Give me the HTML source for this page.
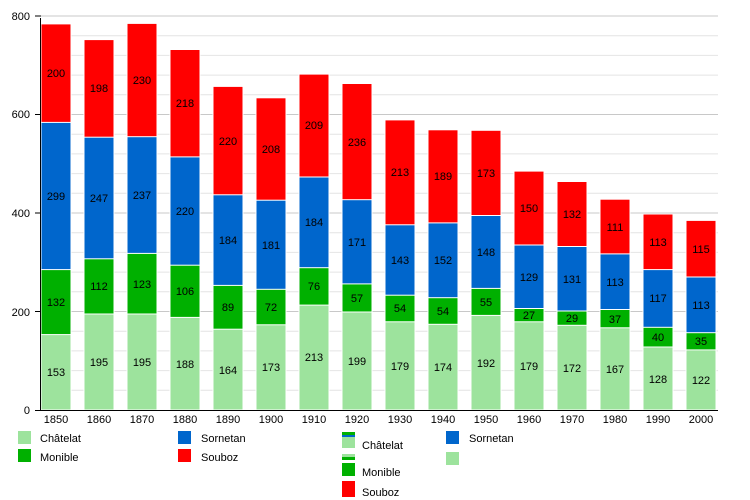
<!DOCTYPE html>
<html><head><meta charset="utf-8"><style>body{margin:0;background:#fff}svg{display:block}text{font-family:"Liberation Sans",sans-serif}</style></head><body>
<svg width="750" height="500" xmlns="http://www.w3.org/2000/svg">
<g stroke="#e4e4e4" stroke-width="1">
<line x1="40" x2="718" y1="390.3" y2="390.3"/><line x1="40" x2="718" y1="370.6" y2="370.6"/><line x1="40" x2="718" y1="350.9" y2="350.9"/><line x1="40" x2="718" y1="331.2" y2="331.2"/>
<line x1="40" x2="718" y1="291.8" y2="291.8"/><line x1="40" x2="718" y1="272.1" y2="272.1"/><line x1="40" x2="718" y1="252.4" y2="252.4"/><line x1="40" x2="718" y1="232.7" y2="232.7"/>
<line x1="40" x2="718" y1="193.3" y2="193.3"/><line x1="40" x2="718" y1="173.6" y2="173.6"/><line x1="40" x2="718" y1="153.9" y2="153.9"/><line x1="40" x2="718" y1="134.2" y2="134.2"/>
<line x1="40" x2="718" y1="94.8" y2="94.8"/><line x1="40" x2="718" y1="75.1" y2="75.1"/><line x1="40" x2="718" y1="55.4" y2="55.4"/><line x1="40" x2="718" y1="35.7" y2="35.7"/>
</g>
<g stroke="#c8c8c8" stroke-width="1">
<line x1="40" x2="718" y1="311.5" y2="311.5"/><line x1="40" x2="718" y1="213" y2="213"/><line x1="40" x2="718" y1="114.5" y2="114.5"/><line x1="40" x2="718" y1="16" y2="16"/>
</g>
<g stroke="#fff" stroke-width="1">
<rect x="41" y="23.9" width="30" height="386.1" fill="#ff0000"/><rect x="41" y="122.4" width="30" height="287.6" fill="#0066cc"/><rect x="41" y="269.6" width="30" height="140.4" fill="#00b000"/><rect x="41" y="334.6" width="30" height="75.4" fill="#9de39d"/>
<rect x="84" y="39.6" width="30" height="370.4" fill="#ff0000"/><rect x="84" y="137.2" width="30" height="272.8" fill="#0066cc"/><rect x="84" y="258.8" width="30" height="151.2" fill="#00b000"/><rect x="84" y="314" width="30" height="96" fill="#9de39d"/>
<rect x="127" y="23.4" width="30" height="386.6" fill="#ff0000"/><rect x="127" y="136.7" width="30" height="273.3" fill="#0066cc"/><rect x="127" y="253.4" width="30" height="156.6" fill="#00b000"/><rect x="127" y="314" width="30" height="96" fill="#9de39d"/>
<rect x="170" y="49.5" width="30" height="360.5" fill="#ff0000"/><rect x="170" y="156.9" width="30" height="253.1" fill="#0066cc"/><rect x="170" y="265.2" width="30" height="144.8" fill="#00b000"/><rect x="170" y="317.4" width="30" height="92.6" fill="#9de39d"/>
<rect x="213" y="86.4" width="30" height="323.6" fill="#ff0000"/><rect x="213" y="194.8" width="30" height="215.2" fill="#0066cc"/><rect x="213" y="285.4" width="30" height="124.6" fill="#00b000"/><rect x="213" y="329.2" width="30" height="80.8" fill="#9de39d"/>
<rect x="256" y="97.8" width="30" height="312.2" fill="#ff0000"/><rect x="256" y="200.2" width="30" height="209.8" fill="#0066cc"/><rect x="256" y="289.3" width="30" height="120.7" fill="#00b000"/><rect x="256" y="324.8" width="30" height="85.2" fill="#9de39d"/>
<rect x="299" y="74.1" width="30" height="335.9" fill="#ff0000"/><rect x="299" y="177" width="30" height="233" fill="#0066cc"/><rect x="299" y="267.7" width="30" height="142.3" fill="#00b000"/><rect x="299" y="305.1" width="30" height="104.9" fill="#9de39d"/>
<rect x="342" y="83.5" width="30" height="326.5" fill="#ff0000"/><rect x="342" y="199.7" width="30" height="210.3" fill="#0066cc"/><rect x="342" y="283.9" width="30" height="126.1" fill="#00b000"/><rect x="342" y="312" width="30" height="98" fill="#9de39d"/>
<rect x="385" y="119.9" width="30" height="290.1" fill="#ff0000"/><rect x="385" y="224.8" width="30" height="185.2" fill="#0066cc"/><rect x="385" y="295.2" width="30" height="114.8" fill="#00b000"/><rect x="385" y="321.8" width="30" height="88.2" fill="#9de39d"/>
<rect x="428" y="129.8" width="30" height="280.2" fill="#ff0000"/><rect x="428" y="222.9" width="30" height="187.1" fill="#0066cc"/><rect x="428" y="297.7" width="30" height="112.3" fill="#00b000"/><rect x="428" y="324.3" width="30" height="85.7" fill="#9de39d"/>
<rect x="471" y="130.3" width="30" height="279.7" fill="#ff0000"/><rect x="471" y="215.5" width="30" height="194.5" fill="#0066cc"/><rect x="471" y="288.4" width="30" height="121.6" fill="#00b000"/><rect x="471" y="315.4" width="30" height="94.6" fill="#9de39d"/>
<rect x="514" y="171.1" width="30" height="238.9" fill="#ff0000"/><rect x="514" y="245" width="30" height="165" fill="#0066cc"/><rect x="514" y="308.5" width="30" height="101.5" fill="#00b000"/><rect x="514" y="321.8" width="30" height="88.2" fill="#9de39d"/>
<rect x="557" y="181.5" width="30" height="228.5" fill="#ff0000"/><rect x="557" y="246.5" width="30" height="163.5" fill="#0066cc"/><rect x="557" y="311" width="30" height="99" fill="#00b000"/><rect x="557" y="325.3" width="30" height="84.7" fill="#9de39d"/>
<rect x="600" y="199.2" width="30" height="210.8" fill="#ff0000"/><rect x="600" y="253.9" width="30" height="156.1" fill="#0066cc"/><rect x="600" y="309.5" width="30" height="100.5" fill="#00b000"/><rect x="600" y="327.8" width="30" height="82.2" fill="#9de39d"/>
<rect x="643" y="214" width="30" height="196" fill="#ff0000"/><rect x="643" y="269.6" width="30" height="140.4" fill="#0066cc"/><rect x="643" y="327.3" width="30" height="82.7" fill="#00b000"/><rect x="643" y="347" width="30" height="63" fill="#9de39d"/>
<rect x="686" y="220.4" width="30" height="189.6" fill="#ff0000"/><rect x="686" y="277" width="30" height="133" fill="#0066cc"/><rect x="686" y="332.7" width="30" height="77.3" fill="#00b000"/><rect x="686" y="349.9" width="30" height="60.1" fill="#9de39d"/>
</g>
<g font-size="11" fill="#000" text-anchor="middle">
<text x="56" y="376">153</text><text x="56" y="306">132</text><text x="56" y="200">299</text><text x="56" y="77">200</text>
<text x="99" y="366">195</text><text x="99" y="290">112</text><text x="99" y="202">247</text><text x="99" y="92">198</text>
<text x="142" y="366">195</text><text x="142" y="288">123</text><text x="142" y="199">237</text><text x="142" y="84">230</text>
<text x="185" y="368">188</text><text x="185" y="295">106</text><text x="185" y="215">220</text><text x="185" y="107">218</text>
<text x="228" y="374">164</text><text x="228" y="311">89</text><text x="228" y="244">184</text><text x="228" y="145">220</text>
<text x="271" y="371">173</text><text x="271" y="311">72</text><text x="271" y="249">181</text><text x="271" y="153">208</text>
<text x="314" y="361">213</text><text x="314" y="290">76</text><text x="314" y="226">184</text><text x="314" y="129">209</text>
<text x="357" y="365">199</text><text x="357" y="302">57</text><text x="357" y="246">171</text><text x="357" y="146">236</text>
<text x="400" y="370">179</text><text x="400" y="312">54</text><text x="400" y="264">143</text><text x="400" y="176">213</text>
<text x="443" y="371">174</text><text x="443" y="315">54</text><text x="443" y="264">152</text><text x="443" y="180">189</text>
<text x="486" y="367">192</text><text x="486" y="306">55</text><text x="486" y="256">148</text><text x="486" y="177">173</text>
<text x="529" y="370">179</text><text x="529" y="319">27</text><text x="529" y="281">129</text><text x="529" y="212">150</text>
<text x="572" y="372">172</text><text x="572" y="322">29</text><text x="572" y="283">131</text><text x="572" y="218">132</text>
<text x="615" y="373">167</text><text x="615" y="323">37</text><text x="615" y="286">113</text><text x="615" y="231">111</text>
<text x="658" y="383">128</text><text x="658" y="341">40</text><text x="658" y="302">117</text><text x="658" y="246">113</text>
<text x="701" y="384">122</text><text x="701" y="345">35</text><text x="701" y="309">113</text><text x="701" y="253">115</text>
</g>
<g stroke="#000" stroke-width="1">
<line x1="40.5" y1="18" x2="40.5" y2="410"/><line x1="40" y1="410.5" x2="718" y2="410.5"/>
<line x1="35" x2="41" y1="410.5" y2="410.5"/><line x1="35" x2="41" y1="311.5" y2="311.5"/><line x1="35" x2="41" y1="213" y2="213"/><line x1="35" x2="41" y1="114.5" y2="114.5"/><line x1="35" x2="41" y1="16" y2="16"/>
</g>
<g font-size="11" fill="#000" text-anchor="end">
<text x="30" y="414">0</text><text x="30" y="316">200</text><text x="30" y="217">400</text><text x="30" y="118">600</text><text x="30" y="20">800</text>
</g>
<g font-size="11" fill="#000" text-anchor="middle">
<text x="56" y="423">1850</text><text x="99" y="423">1860</text><text x="142" y="423">1870</text><text x="185" y="423">1880</text><text x="228" y="423">1890</text><text x="271" y="423">1900</text><text x="314" y="423">1910</text><text x="357" y="423">1920</text><text x="400" y="423">1930</text><text x="443" y="423">1940</text><text x="486" y="423">1950</text><text x="529" y="423">1960</text><text x="572" y="423">1970</text><text x="615" y="423">1980</text><text x="658" y="423">1990</text><text x="701" y="423">2000</text>
</g>
<rect x="18" y="431" width="13" height="13" fill="#9de39d"/><rect x="18" y="449" width="13" height="13" fill="#00b000"/>
<rect x="178" y="431" width="13" height="13" fill="#0066cc"/><rect x="178" y="449" width="13" height="13" fill="#ff0000"/>
<rect x="342" y="432" width="13" height="3" fill="#00b000"/><rect x="342" y="435" width="13" height="2" fill="#0066cc"/><rect x="342" y="437" width="13" height="11" fill="#9de39d"/>
<rect x="342" y="454" width="13" height="3" fill="#9de39d"/><rect x="342" y="457" width="13" height="3" fill="#00b000"/><rect x="342" y="463" width="13" height="13" fill="#00b000"/>
<rect x="342" y="481" width="13" height="16" fill="#ff0000"/>
<rect x="446" y="431" width="13" height="13" fill="#0066cc"/><rect x="446" y="452" width="13" height="13" fill="#9de39d"/>
<g font-size="11" fill="#000">
<text x="40" y="442">Châtelat</text><text x="40" y="461">Monible</text>
<text x="201" y="442">Sornetan</text><text x="201" y="461">Souboz</text>
<text x="362" y="449">Châtelat</text><text x="362" y="476">Monible</text><text x="362" y="496">Souboz</text>
<text x="469" y="442">Sornetan</text>
</g>
</svg>
</body></html>
